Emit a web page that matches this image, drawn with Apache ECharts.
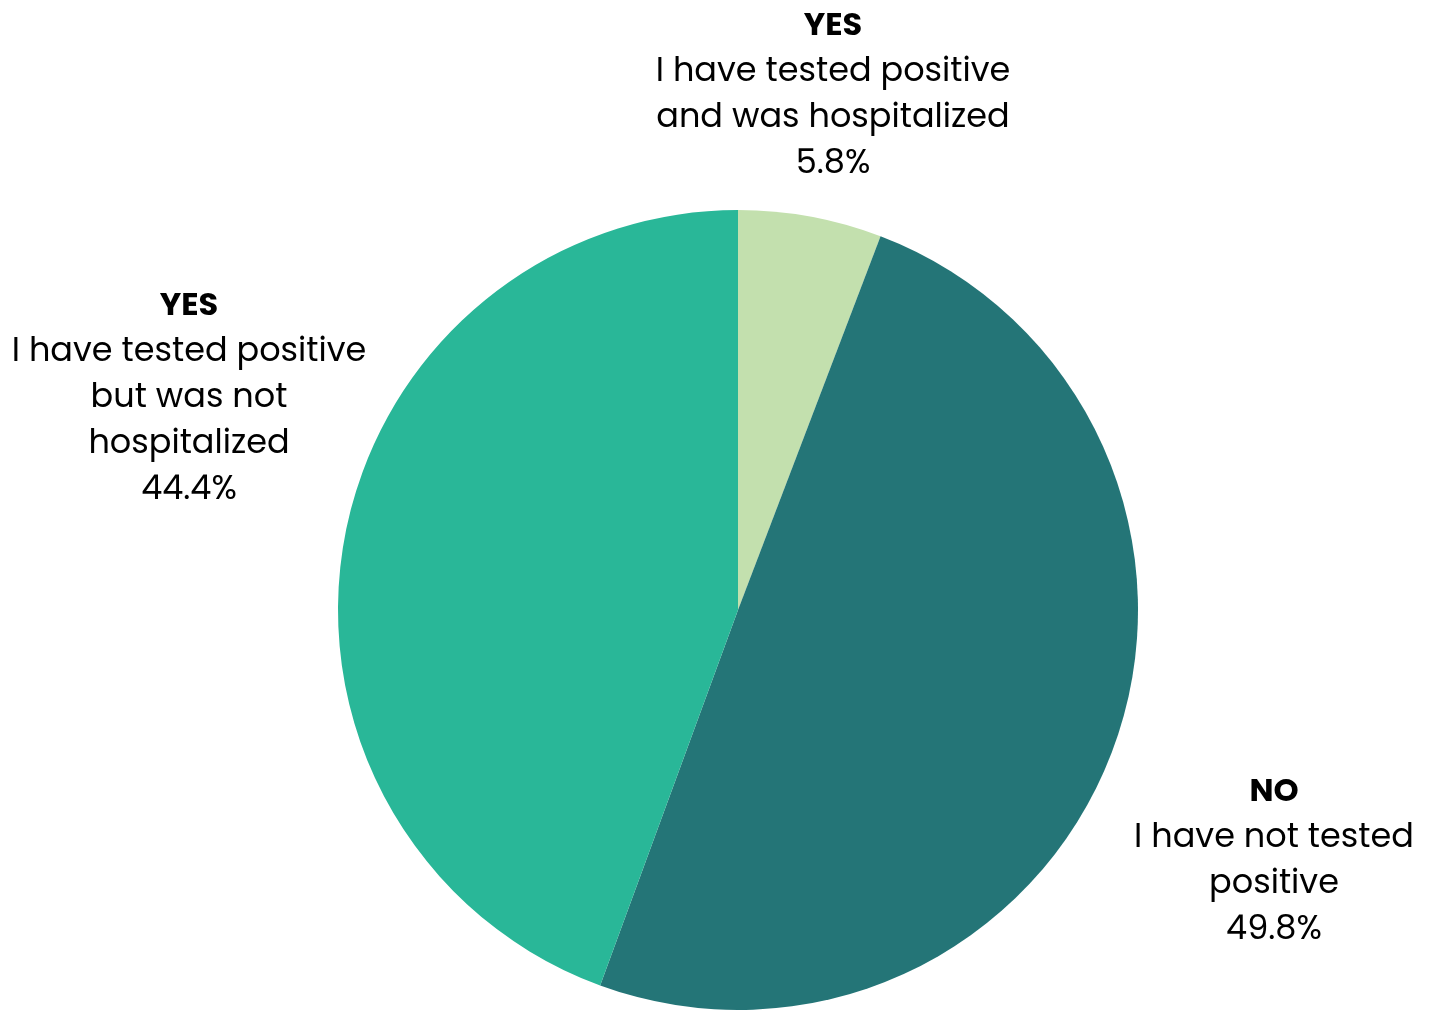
<!DOCTYPE html>
<html>
<head>
<meta charset="utf-8">
<script src="https://cdn.jsdelivr.net/npm/echarts@6/dist/echarts.min.js"></script>
<style>
  html, body { margin: 0; padding: 0; background: #ffffff; }
  #chart { width: 1429px; height: 1010px; }
</style>
</head>
<body>
<div id="chart"></div>
<script>
// Survey answers: COVID-19 test results
const answers = ['YES', 'NO', 'YES'];
const descriptions = [
  ['I have tested positive', 'and was hospitalized'],
  ['I have not tested', 'positive'],
  ['I have tested positive', 'but was not', 'hospitalized']
];
const shares = [5.8, 49.8, 44.4];
const colors = ['#c3e0ae', '#247577', '#29b798'];

const FONT = 'Poppins, Inter, "Noto Sans", sans-serif';

const pieData = shares.map((v, i) => ({
  value: v,
  name: answers[i] + ' ' + descriptions[i].join(' '),
  itemStyle: { color: colors[i] }
}));

// Label anchor points (centre of each text block)
const labelSpots = [
  { x: 833, y: 96 },
  { x: 1274, y: 862 },
  { x: 189, y: 399 }
];

const chart = echarts.init(document.getElementById('chart'));
chart.setOption({
  animation: false,
  series: [{
    type: 'pie',
    center: [738, 610],
    radius: [0, 400],
    startAngle: 90,
    clockwise: true,
    data: pieData,
    labelLine: { show: false },
    label: {
      show: true,
      position: 'outside',
      align: 'center',
      overflow: 'none',
      formatter: (p) => {
        const i = p.dataIndex;
        return '{b|' + answers[i] + '}\n' +
          descriptions[i].map(s => '{t|' + s + '}').join('\n') +
          '\n{t|' + shares[i].toFixed(1) + '%}';
      },
      rich: {
        b: { fontFamily: FONT, fontWeight: 'bold', fontSize: 32, lineHeight: 46, color: '#000', align: 'center' },
        t: { fontFamily: FONT, fontSize: 33.5, lineHeight: 46, color: '#000', align: 'center' }
      }
    },
    labelLayout: (params) => {
      const s = labelSpots[params.dataIndex];
      return { x: s.x, y: s.y, align: 'center', verticalAlign: 'middle', hideOverlap: false };
    }
  }]
});
</script>
</body>
</html>
